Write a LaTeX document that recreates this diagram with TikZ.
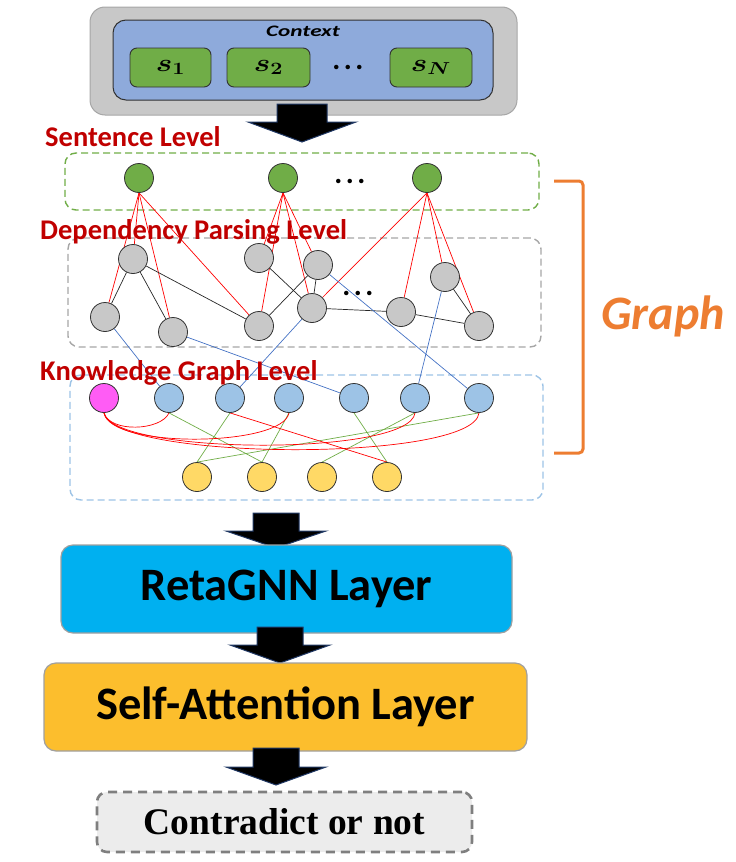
\documentclass[tikz,border=0pt]{standalone}
\usepackage{fontspec}
\usepackage{graphicx}
\usepackage{bm}
\setmainfont{Carlito}
\newfontfamily\outfont{Liberation Serif}
\pgfdeclarelayer{boxes}
\pgfdeclarelayer{edges}
\pgfsetlayers{boxes,edges,main}

\definecolor{ctxgray}{RGB}{200,200,200}
\definecolor{ctxgrayline}{RGB}{166,166,166}
\definecolor{ctxblue}{RGB}{142,170,219}
\definecolor{darkline}{RGB}{50,50,50}
\definecolor{sgreen}{RGB}{112,173,71}
\definecolor{depgray}{RGB}{200,200,200}
\definecolor{kgblue}{RGB}{157,195,230}
\definecolor{kgpink}{RGB}{255,92,245}
\definecolor{kgyellow}{RGB}{255,217,102}
\definecolor{lvlred}{RGB}{192,0,0}
\definecolor{ered}{RGB}{255,0,0}
\definecolor{eblue}{RGB}{68,114,196}
\definecolor{egreen}{RGB}{112,173,71}
\definecolor{boxgray}{RGB}{166,166,166}
\definecolor{graphorange}{RGB}{237,125,49}
\definecolor{retablue}{RGB}{0,176,240}
\definecolor{selfgold}{RGB}{252,190,45}
\definecolor{outgray}{RGB}{236,236,236}
\definecolor{outline}{RGB}{127,127,127}
\definecolor{arrowline}{RGB}{32,56,100}
\definecolor{layerline}{RGB}{160,160,160}

% block arrow: centre x, shaft top, head base, tip, shaft half width, head half width
\newcommand{\blockarrow}[6]{%
  \draw[barrow] (#1-#5,#2) -- (#1+#5,#2) -- (#1+#5,#3) -- (#1+#6,#3)
    -- (#1,#4) -- (#1-#6,#3) -- (#1-#5,#3) -- cycle;}
% three heavy dots
\newcommand{\heavydots}{.\hspace{3.5pt}.\hspace{3.5pt}.}

\begin{document}
\begin{tikzpicture}[x=1pt,y=-1pt,
  dot/.style={circle,draw=darkline,line width=0.8pt,minimum size=29pt,inner sep=0pt},
  sent/.style={dot,fill=sgreen},
  dep/.style={dot,fill=depgray},
  kg/.style={dot,fill=kgblue},
  kgp/.style={dot,fill=kgpink},
  ent/.style={dot,fill=kgyellow},
  lvl/.style={anchor=west,inner sep=0pt,text=lvlred,font=\bfseries\fontsize{28.5}{28.5}\selectfont},
  redge/.style={draw=ered,line width=0.7pt},
  bedge/.style={draw=eblue,line width=0.7pt},
  gedge/.style={draw=egreen,line width=0.7pt},
  kedge/.style={draw=black!85,line width=0.7pt},
  dashbox/.style={draw,rounded corners=11pt,line width=1.4pt,dash pattern=on 7pt off 4pt,inner sep=0pt},
  sbox/.style={draw=darkline,fill=sgreen,rounded corners=7pt,line width=0.9pt,inner sep=0pt},
  layerbox/.style={draw=layerline,rounded corners=12pt,line width=1.2pt,inner sep=0pt,
    font=\bfseries\fontsize{46.5}{46.5}\selectfont},
  barrow/.style={fill=black,draw=arrowline,line width=1pt},
  ellip/.style={inner sep=0pt,font=\bfseries\fontsize{30}{30}\selectfont},
  slabel/.style={font=\fontsize{23}{23}\selectfont}
]
\useasboundingbox (0,0) rectangle (736,862);

% ---------- context block ----------
\node[draw=ctxgrayline,fill=ctxgray,rounded corners=15pt,line width=1pt,
      minimum width=427pt,minimum height=108pt,inner sep=0pt] (ctxout) at (303.5,61) {};
\node[draw=darkline,fill=ctxblue,rounded corners=13pt,line width=1pt,
      minimum width=380pt,minimum height=80pt,inner sep=0pt] (ctxin) at (303,60) {};
\node[inner sep=0pt,font=\bfseries\itshape\fontsize{16}{16}\selectfont] (ctxlabel) at (303,31)
  {\scalebox{1.45}[1]{Context}};
\node[sbox,minimum width=81pt,minimum height=39pt,slabel] (c1) at (170.5,67.5)
  {\scalebox{1.25}[1]{$\bm{s_1}$}};
\node[sbox,minimum width=83pt,minimum height=39pt,slabel] (c2) at (268.5,67.5)
  {\scalebox{1.25}[1]{$\bm{s_2}$}};
\node[sbox,minimum width=82pt,minimum height=39pt,slabel] (cn) at (431,67.5)
  {\scalebox{1.25}[1]{$\bm{s_N}$}};
\node[ellip] (cdots) at (348,67) {\heavydots};

\blockarrow{302}{104}{122}{142}{25}{54}

% ---------- sentence level ----------
\node[sent] (s1) at (139,178) {};
\node[sent] (s2) at (283,178) {};
\node[sent] (s3) at (427,178) {};
\node[ellip] (sdots) at (350,181) {\heavydots};

% ---------- dependency parsing level ----------
\node[dep] (d1) at (133,259) {};
\node[dep] (d2) at (105,317) {};
\node[dep] (d3) at (173,332) {};
\node[dep] (d4) at (259,258) {};
\node[dep] (d5) at (318,265) {};
\node[dep] (d6) at (259,326) {};
\node[dep] (d7) at (312,308) {};
\node[dep] (d8) at (445,277) {};
\node[dep] (d9) at (401,312) {};
\node[dep] (d10) at (479,326) {};
\node[ellip] (ddots) at (358,293) {\heavydots};

% ---------- knowledge graph level ----------
\node[kgp] (p) at (104,398) {};
\node[kg] (b1) at (169,398) {};
\node[kg] (b2) at (230,398) {};
\node[kg] (b3) at (289,398) {};
\node[kg] (b4) at (354,398) {};
\node[kg] (b5) at (415,398) {};
\node[kg] (b6) at (479,398) {};
\node[ent] (y1) at (197,477) {};
\node[ent] (y2) at (262,477) {};
\node[ent] (y3) at (322,477) {};
\node[ent] (y4) at (387,477) {};

% ---------- level frames ----------
\begin{pgfonlayer}{boxes}
  \node[dashbox,draw=sgreen,minimum width=474pt,minimum height=57pt] (sframe) at (302,181.5) {};
  \node[dashbox,draw=boxgray,minimum width=473pt,minimum height=109pt] (dframe) at (304.5,292.5) {};
  \node[dashbox,draw=kgblue,minimum width=473pt,minimum height=125pt] (kframe) at (306.5,437.5) {};
\end{pgfonlayer}

% ---------- edges ----------
\begin{pgfonlayer}{edges}
  % sentence -> tokens
  \foreach \t in {d1,d2,d3,d6} \draw[redge] (s1.south) -- (\t);
  \foreach \t in {d4,d5,d6,d7} \draw[redge] (s2.south) -- (\t);
  \foreach \t in {d7,d8,d9,d10} \draw[redge] (s3.south) -- (\t);
  % dependency arcs
  \draw[kedge] (d1) -- (d2);
  \draw[kedge] (d1) -- (d3);
  \draw[kedge] (d1) -- (d6);
  \draw[kedge] (d4) -- (d7);
  \draw[kedge] (d6) -- (d5);
  \draw[kedge] (d5) -- (d7);
  \draw[kedge] (d7) -- (d9);
  \draw[kedge] (d9) -- (d10);
  \draw[kedge] (d8) -- (d10);
  % token -> concept links
  \draw[bedge] (d2) -- (b1);
  \draw[bedge] (d3) -- (b4);
  \draw[bedge] (d7) -- (b2);
  \draw[bedge] (d5) -- (b6);
  \draw[bedge] (d8) -- (b5);
  % concept relations
  \draw[gedge] (b1.south) -- (y2.north);
  \draw[gedge] (b2.south) -- (y1.north);
  \draw[gedge] (b3.south) -- (y2.north);
  \draw[gedge] (b4.south) -- (y4.north);
  \draw[gedge] (b5.south) -- (y3.north);
  \draw[gedge] (b6.south) -- (y1.north);
  \draw[redge] (b2.south) -- (y4.north);
  \draw[redge] (p.south) .. controls +(6,20) and +(-8,18) .. (b1.south);
  \draw[redge] (p.south) .. controls +(6,36) and +(-6,34) .. (b3.south);
  \draw[redge] (p.south) .. controls +(8,42) and +(-5,44) .. (b5.south);
  \draw[redge] (p.south) .. controls +(8,48) and +(-5,50) .. (b6.south);
\end{pgfonlayer}

% ---------- level labels ----------
\node[lvl] (lsent) at (45,137) {Sentence Level};
\node[lvl] (ldep) at (40,232) {Dependency Parsing Level};
\node[lvl] (lkg) at (40,373) {Knowledge Graph Level};

% ---------- graph bracket ----------
\draw[graphorange,line width=3pt,rounded corners=4pt]
  (554,181) -- (583,181) -- (583,453) -- (554,453);
\node[inner sep=0pt,text=graphorange,font=\bfseries\itshape\fontsize{48}{48}\selectfont]
  (graphlabel) at (663,316) {Graph};

% ---------- model layers ----------
\blockarrow{276}{513}{531}{548}{23}{50}
\node[layerbox,fill=retablue,minimum width=451pt,minimum height=88pt] (reta) at (286.5,589)
  {RetaGNN Layer};
\blockarrow{280}{627}{645}{663}{23}{50}
\node[layerbox,fill=selfgold,minimum width=483pt,minimum height=88pt] (selfatt) at (285.5,707)
  {Self-Attention Layer};
\blockarrow{276}{748}{767}{785}{23}{50}
\node[draw=outline,fill=outgray,rounded corners=10pt,line width=2.6pt,dash pattern=on 9pt off 6pt,
      minimum width=375pt,minimum height=60pt,inner sep=0pt,
      font=\outfont\bfseries\fontsize{37.5}{37.5}\selectfont] (out) at (284.5,822) {Contradict or not};
\end{tikzpicture}
\end{document}
